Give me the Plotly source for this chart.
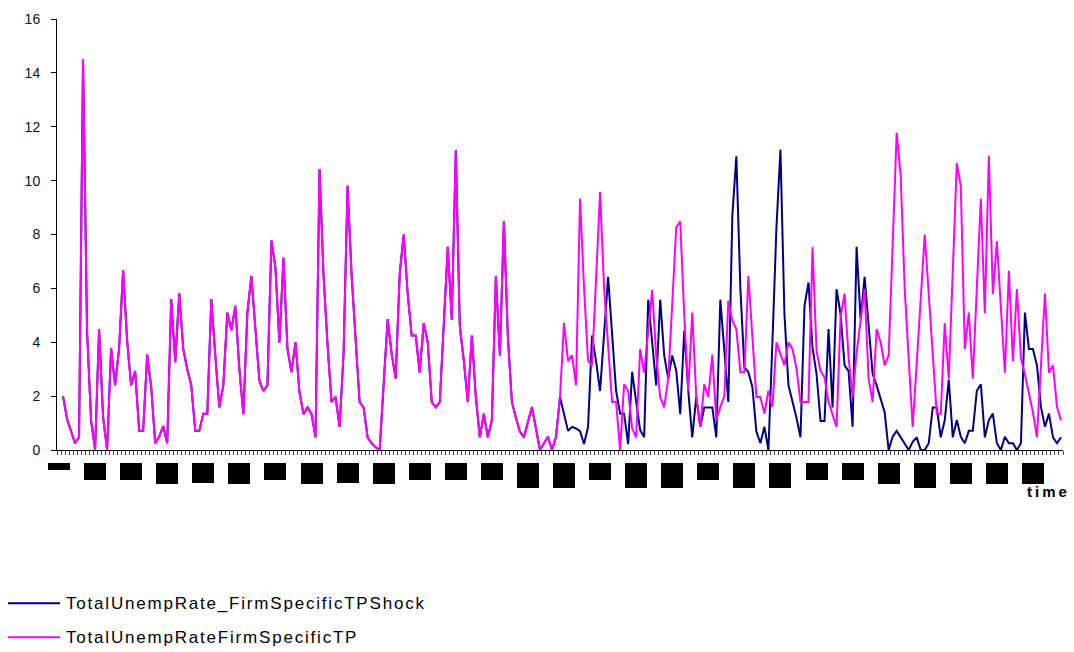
import plotly.graph_objects as go

# ---- data -------------------------------------------------------------
# time steps 1..250 on a category-like axis that also has an empty slot 0
time_steps = list(range(1, 251))

# both runs coincide exactly up to t = 125
common_part = [
    2.0, 1.15, 0.7, 0.25, 0.47, 14.5, 4.43, 1.11, 0.0, 4.49,
    1.23, 0.0, 3.78, 2.4, 3.78, 6.68, 4.06, 2.4, 2.93, 0.71,
    0.71, 3.54, 2.34, 0.25, 0.49, 0.89, 0.25, 5.6, 3.26, 5.82,
    3.75, 3.0, 2.4, 0.71, 0.71, 1.35, 1.35, 5.6, 3.5, 1.58,
    2.4, 5.1, 4.45, 5.35, 3.0, 1.33, 5.1, 6.46, 4.5, 2.58,
    2.19, 2.4, 7.78, 6.77, 3.98, 7.14, 3.75, 2.89, 4.0, 2.15,
    1.33, 1.58, 1.33, 0.47, 10.43, 6.5, 3.9, 1.78, 1.97, 0.86,
    3.57, 9.81, 6.5, 4.0, 1.78, 1.58, 0.47, 0.25, 0.1, 0.0,
    2.46, 4.86, 3.57, 2.65, 6.52, 8.0, 5.79, 4.25, 4.25, 2.87,
    4.71, 4.0, 1.78, 1.58, 1.78, 4.8, 7.54, 4.84, 11.14, 4.6,
    3.32, 1.78, 4.25, 1.97, 0.47, 1.35, 0.47, 1.11, 6.46, 3.51,
    8.49, 4.18, 1.78, 1.2, 0.68, 0.47, 1.05, 1.6, 0.8, 0.0,
    0.25, 0.49, 0.0, 0.49, 1.97,
]

tp_tail = [
    4.71, 3.3, 3.51, 2.4, 9.33,
    6.0, 3.32, 3.14, 6.3, 9.58, 6.0, 3.8, 1.78, 1.78, 0.0,
    2.44, 2.2, 0.8, 0.47, 3.75, 2.87, 4.4, 5.94, 3.5, 1.97,
    1.58, 2.65, 5.4, 8.25, 8.49, 5.0, 2.19, 5.1, 1.97, 0.86,
    2.44, 1.97, 3.54, 1.11, 1.6, 2.0, 5.54, 4.8, 4.49, 2.89,
    2.89, 6.46, 4.2, 1.97, 1.97, 1.35, 2.2, 1.6, 4.0, 3.57,
    3.14, 4.0, 3.75, 3.02, 1.78, 1.78, 1.78, 7.53, 3.69, 2.93,
    2.7, 1.78, 1.35, 0.86, 4.92, 5.81, 3.45, 1.97, 3.6, 4.8,
    5.97, 2.65, 1.78, 4.49, 4.0, 3.14, 3.51, 7.6, 11.78, 10.2,
    6.0, 3.4, 0.86, 3.2, 5.6, 8.0, 5.8, 3.6, 1.35, 1.35,
    4.71, 2.65, 6.6, 10.65, 9.81, 3.75, 5.1, 2.65, 6.0, 9.33,
    5.08, 10.92, 5.79, 7.75, 5.3, 2.87, 6.65, 3.3, 5.97, 3.4,
    2.8, 2.1, 1.4, 0.47, 3.1, 5.81, 2.87, 3.14, 1.6, 1.11,
]

shock_tail = [
    1.3, 0.71, 0.86, 0.8, 0.7,
    0.22, 0.86, 4.25, 3.3, 2.19, 4.3, 6.43, 4.3, 2.19, 1.35,
    1.35, 0.22, 2.9, 1.8, 0.74, 0.47, 5.58, 4.0, 2.4, 5.58,
    3.51, 2.65, 3.51, 2.95, 1.33, 4.43, 2.2, 0.47, 1.97, 0.86,
    1.58, 1.58, 1.58, 0.47, 5.58, 3.7, 1.78, 8.7, 10.9, 6.0,
    3.08, 2.89, 2.34, 0.68, 0.25, 0.86, 0.0, 4.0, 8.25, 11.15,
    5.05, 2.4, 1.85, 1.2, 0.47, 5.35, 6.22, 3.82, 2.83, 1.08,
    1.08, 4.49, 1.58, 5.97, 5.05, 3.14, 2.93, 0.86, 7.54, 4.86,
    6.43, 4.74, 2.83, 2.4, 1.9, 1.4, 0.0, 0.49, 0.71, 0.47,
    0.25, 0.0, 0.3, 0.47, 0.0, 0.0, 0.25, 1.58, 1.58, 0.47,
    1.11, 2.61, 0.47, 1.11, 0.49, 0.25, 0.71, 0.71, 2.2, 2.44,
    0.47, 1.11, 1.35, 0.25, 0.0, 0.49, 0.25, 0.25, 0.0, 0.25,
    5.1, 3.75, 3.75, 3.14, 1.6, 0.86, 1.35, 0.47, 0.25, 0.47,
]

unemp_shock = common_part + shock_tail
unemp_tp = common_part + tp_tail

series_names = ["TotalUnempRate_FirmSpecificTPShock", "TotalUnempRateFirmSpecificTP"]
series_colors = ["#000080", "#FF00FF"]

# category labels along the time axis (every 9th slot), drawn as solid boxes
label_slots = list(range(0, 244, 9))
label_box_heights = [7, 17, 17, 21, 20, 21, 17, 21, 20, 21, 17, 17, 17, 25,
                     25, 17, 25, 25, 17, 25, 25, 17, 17, 21, 25, 21, 21, 21]

# ---- geometry (pixels) -----------------------------------------------
W, H = 1074, 652
ML, MR, MT, MB = 57, 11, 17, 202
PW, PH = W - ML - MR, H - MT - MB


def px_x(px):
    return (px - ML) / PW


def px_y(py):
    return (H - MB - py) / PH


FONT = "Liberation Sans, Arial, sans-serif"

fig = go.Figure()
for name, vals, col in zip(series_names, [unemp_shock, unemp_tp], series_colors):
    fig.add_trace(go.Scatter(
        x=time_steps, y=vals, mode="lines", name=name,
        line=dict(color=col, width=2), showlegend=False,
    ))

fig.update_layout(
    width=W, height=H,
    margin=dict(l=ML, r=MR, t=MT, b=MB, pad=0),
    paper_bgcolor="white", plot_bgcolor="white",
    font=dict(family=FONT, color="black"),
    xaxis=dict(
        range=[-0.5, 250.5], showgrid=False, zeroline=False,
        showline=True, linecolor="black", linewidth=1,
        ticks="outside", tick0=-0.5, dtick=1, ticklen=4,
        tickcolor="#444", tickwidth=1, showticklabels=False,
    ),
    yaxis=dict(
        range=[0, 16], dtick=2, showgrid=False, zeroline=False,
        showline=True, linecolor="black", linewidth=1,
        ticks="outside", ticklen=5, tickcolor="black",
        tickfont=dict(size=14, family=FONT, color="#111"),
        ticklabelstandoff=8,
    ),
)

annotations = []
for slot, h in zip(label_slots, label_box_heights):
    annotations.append(dict(
        x=slot, xref="x", y=px_y(462.7), yref="paper",
        xanchor="center", yanchor="top", showarrow=False,
        text=str(slot), font=dict(size=8, color="black"),
        bgcolor="black", width=22, height=h, borderpad=0, borderwidth=0,
    ))

annotations.append(dict(
    x=px_x(1048), xref="paper", y=px_y(492), yref="paper",
    xanchor="center", yanchor="middle", showarrow=False,
    text='<span style="letter-spacing:3px"><b>time</b></span>',
    font=dict(size=15, family=FONT, color="black"),
))

shapes = []
for i, (name, col) in enumerate(zip(series_names, series_colors)):
    ly = 604 + 34 * i
    shapes.append(dict(
        type="line", xref="paper", yref="paper",
        x0=px_x(8), x1=px_x(60), y0=px_y(ly), y1=px_y(ly),
        line=dict(color=col, width=2),
    ))
    annotations.append(dict(
        x=px_x(64), xref="paper", y=px_y(ly), yref="paper",
        xanchor="left", yanchor="middle", showarrow=False,
        text=f'<span style="letter-spacing:1.8px">{name}</span>',
        font=dict(size=17, family=FONT, color="black"),
    ))

fig.update_layout(annotations=annotations, shapes=shapes)
fig.write_html("out.html")
